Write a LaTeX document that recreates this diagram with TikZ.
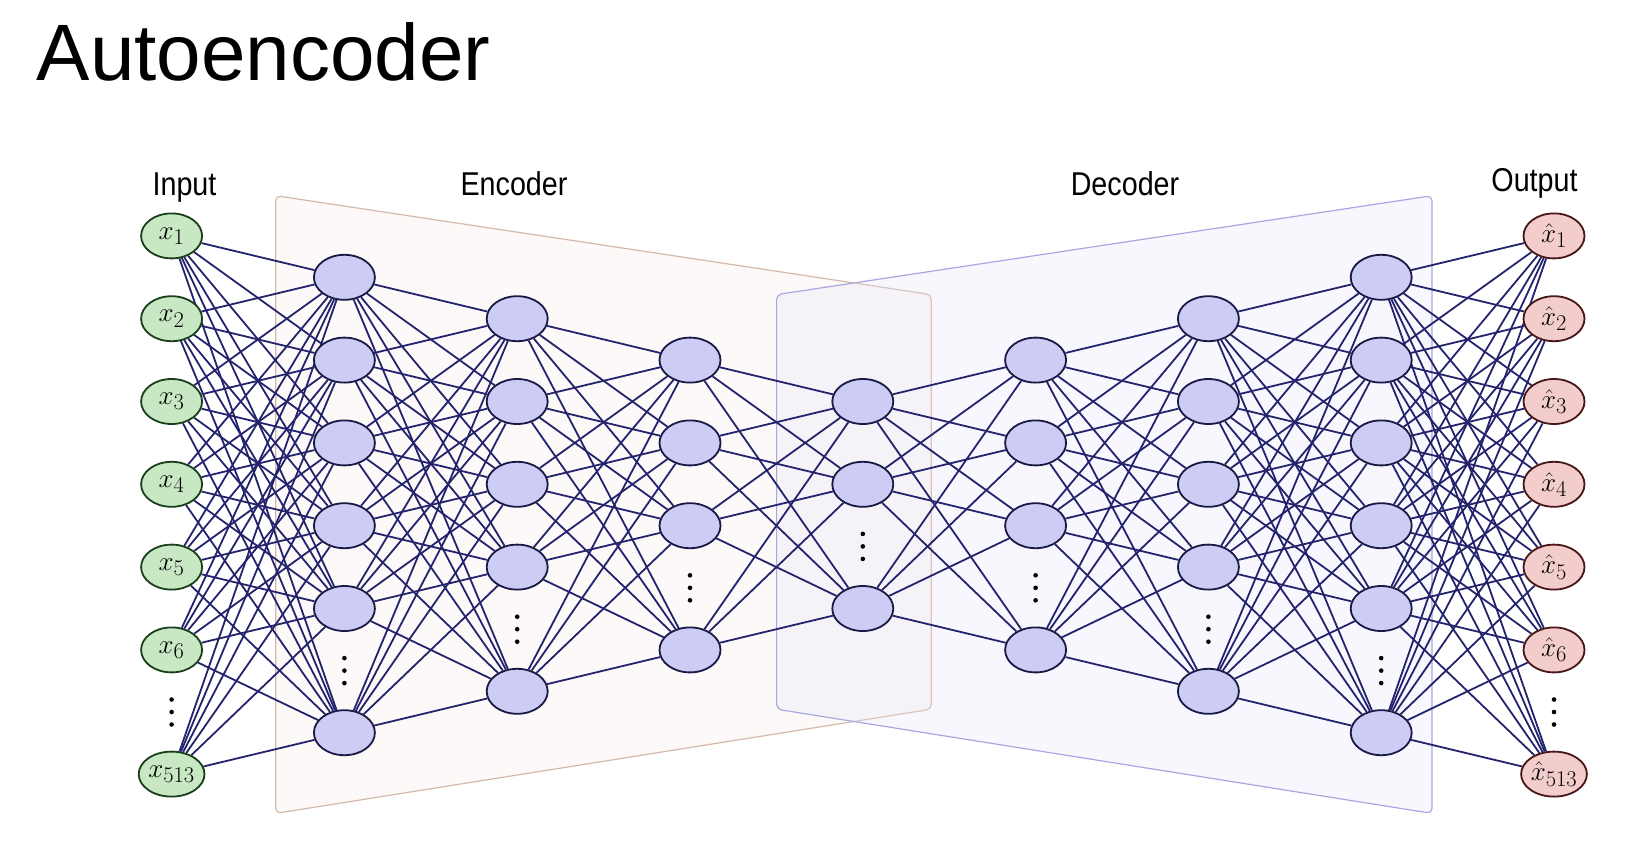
\documentclass[tikz,border=0pt]{standalone}
\usepackage{fontspec}
\usepackage{graphicx}
\newfontfamily\titlefont{Liberation Sans}
\newfontfamily\headfont[FakeStretch=0.87]{Liberation Sans}
\usetikzlibrary{shapes.geometric}

\definecolor{edgecol}{RGB}{35,35,110}
\definecolor{hidfill}{RGB}{204,204,245}
\definecolor{hidline}{RGB}{25,25,70}
\definecolor{infill}{RGB}{200,232,196}
\definecolor{inline}{RGB}{25,62,28}
\definecolor{outfill}{RGB}{243,204,204}
\definecolor{outline}{RGB}{72,22,22}
\definecolor{encfill}{RGB}{242,232,226}
\definecolor{encline}{RGB}{214,184,168}
\definecolor{decfill}{RGB}{228,228,248}
\definecolor{decline}{RGB}{168,168,224}

% neuron labels: math at the largest fixed size, enlarged a little
\newcommand{\nlab}[1]{\scalebox{1.085}{\fontsize{24.88}{30}\selectfont$#1$}}

\pgfdeclarelayer{panels}
\pgfdeclarelayer{edges}
\pgfsetlayers{panels,edges,main}

\tikzset{
  neuron/.style={ellipse, line width=1.8pt, minimum width=61pt, minimum height=45pt,
    inner sep=0pt},
  hid/.style={neuron, draw=hidline, fill=hidfill},
  inp/.style={neuron, draw=inline, fill=infill},
  outp/.style={neuron, draw=outline, fill=outfill},
  edge/.style={draw=edgecol, line width=1.8pt},
  encpanel/.style={draw=encline, fill=encfill, fill opacity=0.25, draw opacity=1,
    line width=1.2pt, rounded corners=5pt},
  decpanel/.style={draw=decline, fill=decfill, fill opacity=0.28, draw opacity=1,
    line width=1.2pt, rounded corners=5pt},
  heading/.style={font=\headfont\fontsize{33}{38}\selectfont, anchor=base, inner sep=0pt},
  vdot/.style={fill=black}
}

\begin{document}
\begin{tikzpicture}[x=1pt, y=-1pt]
  \useasboundingbox (0,0) rectangle (1650,841);

  % title and headings
  \node[anchor=base west, inner sep=0pt, font=\titlefont\fontsize{80}{90}\selectfont]
    (title) at (36.5,80) {Autoencoder};
  \node[heading] (hin)  at (184.5,195) {Input};
  \node[heading] (henc) at (514,195) {Encoder};
  \node[heading] (hdec) at (1125,195) {Decoder};
  \node[heading] (hout) at (1534.5,191.5) {Output};

  % translucent encoder / decoder panels
  \begin{pgfonlayer}{panels}
    \path[encpanel] (275.7,195.7) -- (931.3,294.6) -- (931.3,709.2) -- (275.7,813.4) -- cycle;
    \path[decpanel] (776.6,294.6) -- (1432,195.7) -- (1432,813.4) -- (776.6,709.2) -- cycle;
  \end{pgfonlayer}

  % neurons: layer \i has \n regular units, a gap with dots, then one last unit
  \def\sp{82.8}
  \def\yc{505}
  \foreach \i/\n/\sty in {0/6/inp,1/5/hid,2/4/hid,3/3/hid,4/2/hid,5/3/hid,6/4/hid,7/5/hid,8/6/outp} {
    \pgfmathsetmacro\xx{171.6+172.8*\i}
    \pgfmathsetmacro\yf{\yc-(\n/2+0.25)*\sp}
    \foreach \k in {1,...,\n} {
      \node[\sty] (L\i-\k) at (\xx,{\yf+(\k-1)*\sp})
        {\ifnum\i=0 \nlab{x_{\k}}\fi\ifnum\i=8 \nlab{\hat{x}_{\k}}\fi};
    }
    \pgfmathtruncatemacro\m{\n+1}
    \node[\sty] (L\i-\m) at (\xx,{\yf+(\n+0.5)*\sp})
      {\ifnum\i=0 \nlab{x_{513}}\fi\ifnum\i=8 \nlab{\hat{x}_{513}}\fi};
    \pgfmathsetmacro\yd{\yf+(\n-0.25)*\sp}
    \foreach \d in {-12.5,0,12.5}
      \fill[vdot] (\xx,{\yd+\d}) circle (2.3pt);
  }

  % full connections between neighbouring layers
  \begin{pgfonlayer}{edges}
    \foreach \i/\a/\b in {0/7/6,1/6/5,2/5/4,3/4/3,4/3/4,5/4/5,6/5/6,7/6/7} {
      \pgfmathtruncatemacro\j{\i+1}
      \foreach \p in {1,...,\a}
        \foreach \q in {1,...,\b}
          \draw[edge] (L\i-\p) -- (L\j-\q);
    }
  \end{pgfonlayer}
\end{tikzpicture}
\end{document}
